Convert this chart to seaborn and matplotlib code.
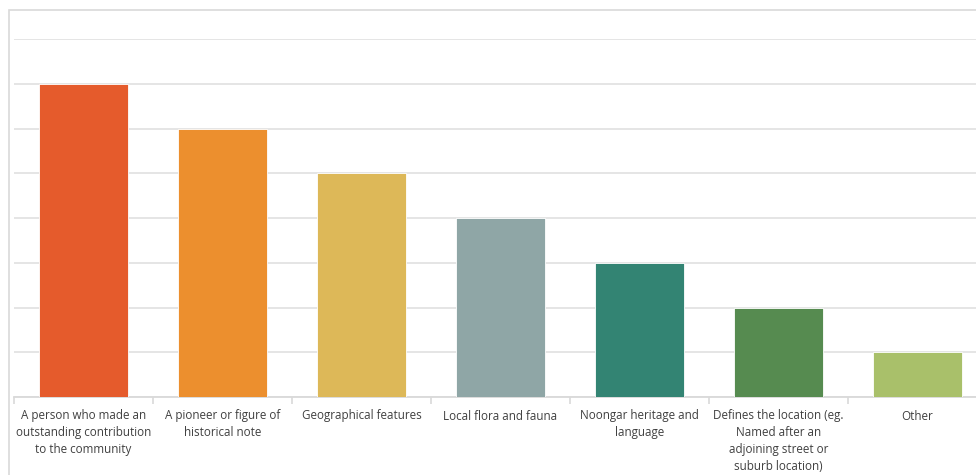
import matplotlib
matplotlib.use("Agg")
import matplotlib.pyplot as plt
import seaborn as sns
import pandas as pd
from matplotlib.patches import Rectangle

categories = [
    "A person who made an\noutstanding contribution\nto the community",
    "A pioneer or figure of\nhistorical note",
    "Geographical features",
    "Local flora and fauna",
    "Noongar heritage and\nlanguage",
    "Defines the location (eg.\nNamed after an\nadjoining street or\nsuburb location)",
    "Other",
]
values = [7, 6, 5, 4, 3, 2, 1]
colors = ["#E55B2C", "#EC8F2E", "#DDB858", "#8FA6A6", "#338473", "#568B50", "#A9C06A"]

df = pd.DataFrame({"cat": categories, "val": values})

sns.set_theme(style="white")
plt.rcParams["font.family"] = ["Open Sans", "DejaVu Sans"]

W, H = 976, 475
fig = plt.figure(figsize=(W / 100, H / 100), dpi=100)
fig.patch.set_facecolor("white")

# outer chart border (only left and top are visible in the crop)
fig.patches.append(Rectangle((8.5 / W, -0.1), 1.2, 1.1 - 9.5 / H, transform=fig.transFigure,
                             fill=False, edgecolor="#D9D9D9", linewidth=1.2, zorder=0))

left, right = 14, 987
top, bottom = 39, 397
ax = fig.add_axes([left / W, 1 - bottom / H, (right - left) / W, (bottom - top) / H])
ax.set_facecolor("white")

sns.barplot(data=df, x="cat", y="val", hue="cat", palette=colors, legend=False,
            width=0.645, ax=ax, saturation=1, edgecolor="white", linewidth=0.6, zorder=3)

ax.set_ylim(0, 8)
ax.set_xlim(-0.5, len(categories) - 0.5)
ax.set_yticks(range(0, 9))
ax.set_yticklabels([])
ax.yaxis.grid(True, color="#E3E3E3", linewidth=1.3, zorder=0)
ax.set_axisbelow(True)
for s in ["top", "right", "left"]:
    ax.spines[s].set_visible(False)
ax.spines["bottom"].set_color("#D9D9D9")
ax.spines["bottom"].set_linewidth(1.3)

ax.set_xlabel("")
ax.set_ylabel("")
ax.tick_params(axis="y", length=0, left=False)
ax.set_xticks(range(len(categories)))
ax.set_xticklabels(categories, fontsize=8.4, color="#404040", linespacing=1.38, va="top")
ax.tick_params(axis="x", which="major", length=0, pad=9)
# minor ticks between categories
ax.set_xticks([i - 0.5 for i in range(len(categories) + 1)], minor=True)
ax.tick_params(axis="x", which="minor", bottom=True, length=5, color="#D9D9D9",
               width=1.2, direction="out")

fig.savefig("out.png", dpi=100, facecolor="white")
